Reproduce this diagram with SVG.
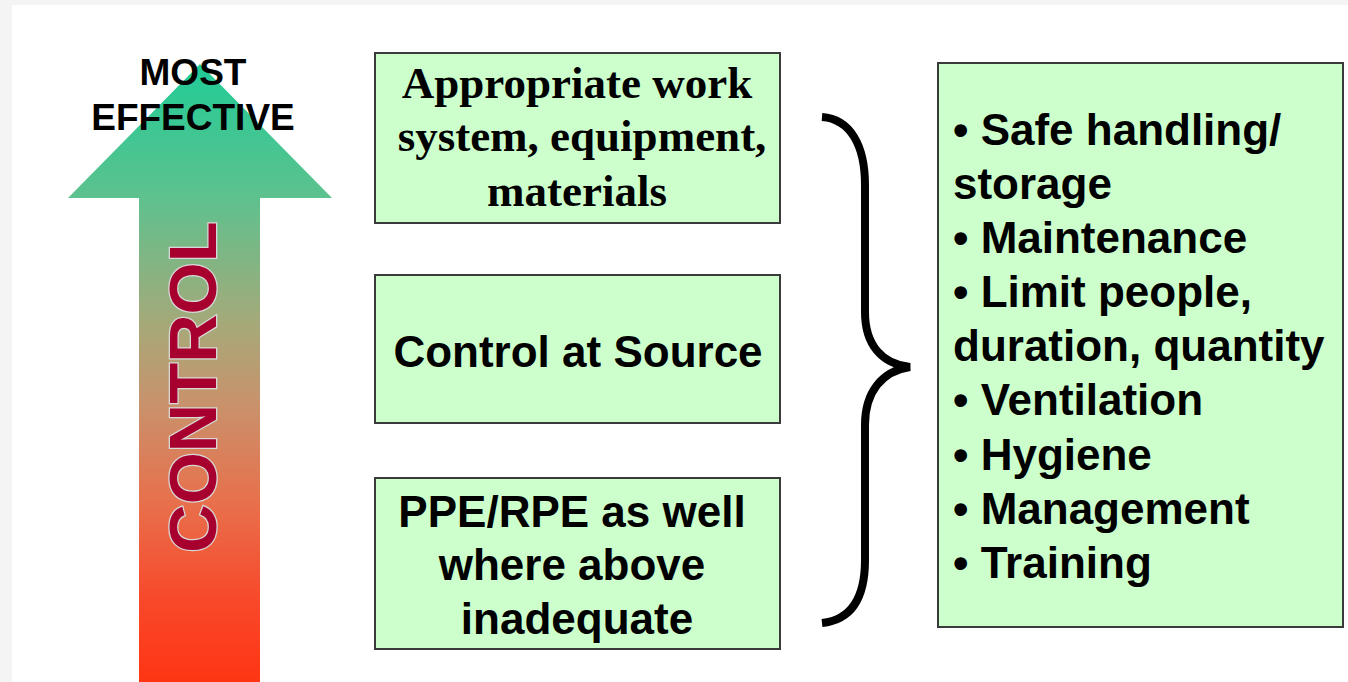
<svg xmlns="http://www.w3.org/2000/svg" width="1348" height="682" viewBox="0 0 1348 682">
<defs>
<linearGradient id="arrowGrad" gradientUnits="userSpaceOnUse" x1="0" y1="62" x2="0" y2="682">
<stop offset="0" stop-color="#1fcc97"/>
<stop offset="0.22" stop-color="#5ec18e"/>
<stop offset="0.43" stop-color="#a8a878"/>
<stop offset="0.55" stop-color="#c8926c"/>
<stop offset="0.71" stop-color="#e8704c"/>
<stop offset="0.87" stop-color="#f8482a"/>
<stop offset="1" stop-color="#ff3513"/>
</linearGradient>
</defs>
<style>
.box{fill:#ccffcc;stroke:#3a3a3a;stroke-width:2}
.sans{font-family:"Liberation Sans",Arial,sans-serif;font-weight:bold;fill:#000}
.serif{font-family:"Liberation Serif","Times New Roman",serif;font-weight:bold;fill:#000}
.brace{fill:none;stroke:#000;stroke-width:8;stroke-linejoin:miter}
</style>
<rect x="0" y="0" width="1348" height="682" fill="#f4f4f4"/>
<rect x="12" y="5" width="1336" height="677" fill="#ffffff"/>

<g id="arrow">
<polygon points="200,64 332,198 260,198 260,682 139,682 139,198 68,198" fill="url(#arrowGrad)"/>
<text transform="translate(216,387) rotate(-90)" text-anchor="middle" font-family="Liberation Sans, Arial, sans-serif" font-weight="bold" font-size="67" fill="#a8002e" stroke="#d8d8d8" stroke-width="2.5" paint-order="stroke">CONTROL</text>
<text class="sans" font-size="37" text-anchor="middle" x="193" y="85">MOST</text>
<text class="sans" font-size="37" text-anchor="middle" x="193" y="130">EFFECTIVE</text>
</g>

<g id="box-work-system">
<rect class="box" x="375" y="53" width="405" height="170"/>
<text class="serif" font-size="45" text-anchor="middle" x="577" y="98">Appropriate work</text>
<text class="serif" font-size="45" text-anchor="middle" x="582" y="151">system, equipment,</text>
<text class="serif" font-size="45" text-anchor="middle" x="577" y="206">materials</text>
</g>

<g id="box-control-source">
<rect class="box" x="375" y="275" width="405" height="148"/>
<text class="sans" font-size="44" text-anchor="middle" x="578" y="367">Control at Source</text>
</g>

<g id="box-ppe">
<rect class="box" x="375" y="478" width="405" height="171"/>
<text class="sans" font-size="44" text-anchor="middle" x="572" y="527">PPE/RPE as well</text>
<text class="sans" font-size="44" text-anchor="middle" x="572" y="580">where above</text>
<text class="sans" font-size="44" text-anchor="middle" x="577" y="634">inadequate</text>
</g>

<g id="connectors">
<path class="brace" d="M822,117 C850,119 865,145 865,185 L865,312 C865,345 882,364 910,367 C882,371 865,392 865,425 L865,560 C865,600 850,620 822,623"/>
</g>

<g id="box-measures">
<rect class="box" x="938" y="63" width="405" height="564"/>
<text class="sans" font-size="44" x="953" y="145">• Safe handling/</text>
<text class="sans" font-size="44" x="953" y="199">storage</text>
<text class="sans" font-size="44" x="953" y="253">• Maintenance</text>
<text class="sans" font-size="44" x="953" y="307">• Limit people,</text>
<text class="sans" font-size="44" x="953" y="361">duration, quantity</text>
<text class="sans" font-size="44" x="953" y="415">• Ventilation</text>
<text class="sans" font-size="44" x="953" y="470">• Hygiene</text>
<text class="sans" font-size="44" x="953" y="524">• Management</text>
<text class="sans" font-size="44" x="953" y="578">• Training</text>
</g>
</svg>
